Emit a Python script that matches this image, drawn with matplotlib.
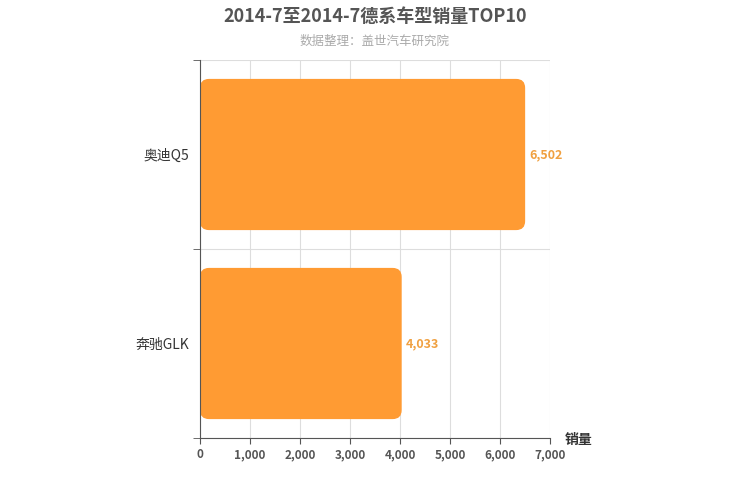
import matplotlib
matplotlib.use("Agg")
import matplotlib.pyplot as plt
from matplotlib.patches import FancyBboxPatch

plt.rcParams['font.family'] = ['Noto Sans CJK SC', 'DejaVu Sans']

models = ["奔驰GLK", "奥迪Q5"]
sales = [4033, 6502]

fig = plt.figure(figsize=(7.5, 5), dpi=100)
ax = fig.add_axes([0.2667, 0.124, 0.4667, 0.756])

ax.set_xlim(0, 7000)
ax.set_ylim(-0.5, 1.5)
for i, v in enumerate(sales):
    p = FancyBboxPatch((0, i - 0.4), v, 0.8,
                       boxstyle="round,pad=0,rounding_size=0.07",
                       mutation_aspect=1 / 1300 * 1, linewidth=0,
                       facecolor="#FF9B33")
    p.set_boxstyle("round", pad=0, rounding_size=180)
    p.set_mutation_aspect(0.8 / 151 * 350 / 7000 * 1.0)
    ax.add_patch(p)
    ax.text(v + 80, i, f"{v:,}", va="center", ha="left",
            fontsize=9, fontweight="bold", color="#F0A040")

ax.set_yticks([0, 1])
ax.set_yticklabels(models, fontsize=10, color="#333333")
ax.set_yticks([-0.5, 0.5, 1.5], minor=True)
ax.tick_params(axis="y", which="major", length=0, pad=8)
ax.tick_params(axis="y", which="minor", length=5, color="#555555")
ax.set_xticks(range(0, 7001, 1000))
ax.set_xticklabels([f"{x:,}" for x in range(0, 7001, 1000)],
                   fontsize=8.5, color="#555555", fontweight="bold")
ax.tick_params(axis="x", length=4, color="#555555")
ax.grid(axis="x", color="#dddddd", linewidth=0.8)
ax.grid(axis="y", which="minor", color="#dddddd", linewidth=0.8)
ax.set_axisbelow(True)
for s in ["top", "right"]:
    ax.spines[s].set_visible(False)
ax.spines["left"].set_color("#555555")
ax.spines["bottom"].set_color("#555555")

fig.text(0.5, 0.968, "2014-7至2014-7德系车型销量TOP10", ha="center", va="center",
         fontsize=13, fontweight="bold", color="#555555")
fig.text(0.5, 0.918, "数据整理：盖世汽车研究院", ha="center", va="center",
         fontsize=9, color="#aaaaaa")
fig.text(0.753, 0.12, "销量", ha="left", va="center", fontsize=10,
         fontweight="bold", color="#333333")

fig.savefig("out.png", dpi=100)
